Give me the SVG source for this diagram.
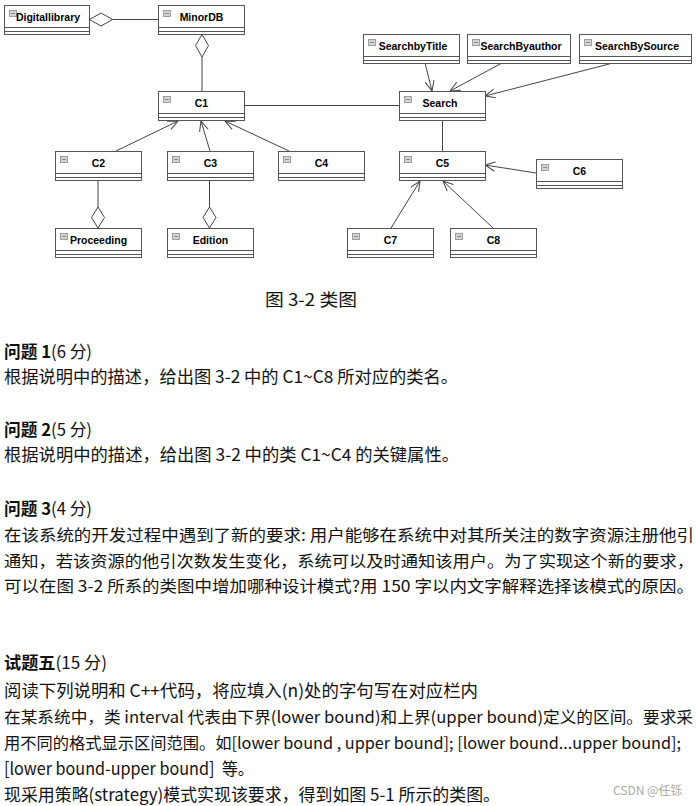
<svg xmlns="http://www.w3.org/2000/svg" width="696" height="806" viewBox="0 0 696 806">
<defs>
<marker id="open" markerUnits="userSpaceOnUse" markerWidth="14" markerHeight="14" viewBox="-12 -7 14 14" refX="0" refY="0" orient="auto">
<path d="M-10,-4.5 L0,0 L-10,4.5" fill="none" stroke="#444" stroke-width="1"/>
</marker>
</defs>
<style>
.bx{fill:#fff;stroke:#555;stroke-width:1}
.cl{stroke:#555;stroke-width:1}
.ic{fill:#d4d4d4;stroke:#8a8a8a;stroke-width:0.8}
.icd{stroke:#777;stroke-width:0.8}
.lbl{font-family:"Liberation Sans",Arial,sans-serif;font-weight:bold;font-size:10.5px;text-anchor:middle;fill:#000}
.con{stroke:#444;stroke-width:1;fill:none}
.arr{marker-end:url(#open)}
.dia{fill:#fff;stroke:#444;stroke-width:1}
.t{font-family:"Noto Sans CJK SC","Noto Sans",sans-serif;font-size:17px;fill:#111}
.s16{font-size:16px}
.bd{font-weight:bold}
.wm{font-family:"Noto Sans CJK SC","Noto Sans",sans-serif;font-size:12px;fill:#a8a8a8}
</style>
<rect x="0" y="0" width="696" height="806" fill="#fff"/>

<g id="connectors">
<line class="con" x1="113" y1="19.5" x2="158" y2="19.5"/>
<polygon class="dia" points="89.5,19.5 101,13 112.5,19.5 101,26"/>
<line class="con" x1="202" y1="57" x2="202" y2="91"/>
<polygon class="dia" points="202,34.5 208.5,45.5 202,57 195.5,45.5"/>
<line class="con" x1="98" y1="180" x2="98" y2="207"/>
<polygon class="dia" points="98,207 104.5,217.5 98,228 91.5,217.5"/>
<line class="con" x1="209.5" y1="180" x2="209.5" y2="207"/>
<polygon class="dia" points="209.5,207 216,217.5 209.5,228 203,217.5"/>
<line class="con arr" x1="116" y1="151" x2="178" y2="121"/>
<line class="con arr" x1="210" y1="151" x2="201" y2="121"/>
<line class="con arr" x1="289" y1="151" x2="225" y2="121"/>
<line class="con" x1="244" y1="105.5" x2="399" y2="105.5"/>
<line class="con arr" x1="425" y1="63" x2="432" y2="91"/>
<line class="con arr" x1="502" y1="63" x2="450" y2="91"/>
<line class="con arr" x1="613" y1="63" x2="485" y2="96"/>
<line class="con" x1="442.5" y1="120" x2="442.5" y2="151"/>
<line class="con arr" x1="536" y1="173" x2="485" y2="165"/>
<line class="con arr" x1="391" y1="228" x2="420" y2="181"/>
<line class="con arr" x1="493" y1="228" x2="443" y2="181"/>
</g>

<g id="digitallibrary"><rect class="bx" x="4.5" y="5.5" width="85" height="29"/><line class="cl" x1="4.5" y1="27.5" x2="89.5" y2="27.5"/><line class="cl" x1="4.5" y1="31.5" x2="89.5" y2="31.5"/><rect class="ic" x="9.5" y="10.5" width="7" height="6"/><line class="icd" x1="11" y1="13.5" x2="15" y2="13.5"/><text class="lbl" x="48" y="21">Digitallibrary</text></g>
<g id="minordb"><rect class="bx" x="158.5" y="5.5" width="86" height="29"/><line class="cl" x1="158.5" y1="27.5" x2="244.5" y2="27.5"/><line class="cl" x1="158.5" y1="31.5" x2="244.5" y2="31.5"/><rect class="ic" x="163.5" y="10.5" width="7" height="6"/><line class="icd" x1="165" y1="13.5" x2="169" y2="13.5"/><text class="lbl" x="201.5" y="21">MinorDB</text></g>
<g id="c1"><rect class="bx" x="158.5" y="91.5" width="86" height="29"/><line class="cl" x1="158.5" y1="113.5" x2="244.5" y2="113.5"/><line class="cl" x1="158.5" y1="117.5" x2="244.5" y2="117.5"/><rect class="ic" x="163.5" y="96.5" width="7" height="6"/><line class="icd" x1="165" y1="99.5" x2="169" y2="99.5"/><text class="lbl" x="201.5" y="107">C1</text></g>
<g id="c2"><rect class="bx" x="55.5" y="151.5" width="86" height="29"/><line class="cl" x1="55.5" y1="173.5" x2="141.5" y2="173.5"/><line class="cl" x1="55.5" y1="177.5" x2="141.5" y2="177.5"/><rect class="ic" x="60.5" y="156.5" width="7" height="6"/><line class="icd" x1="62" y1="159.5" x2="66" y2="159.5"/><text class="lbl" x="98.5" y="167">C2</text></g>
<g id="c3"><rect class="bx" x="167.5" y="151.5" width="86" height="29"/><line class="cl" x1="167.5" y1="173.5" x2="253.5" y2="173.5"/><line class="cl" x1="167.5" y1="177.5" x2="253.5" y2="177.5"/><rect class="ic" x="172.5" y="156.5" width="7" height="6"/><line class="icd" x1="174" y1="159.5" x2="178" y2="159.5"/><text class="lbl" x="210.5" y="167">C3</text></g>
<g id="c4"><rect class="bx" x="278.5" y="151.5" width="86" height="29"/><line class="cl" x1="278.5" y1="173.5" x2="364.5" y2="173.5"/><line class="cl" x1="278.5" y1="177.5" x2="364.5" y2="177.5"/><rect class="ic" x="283.5" y="156.5" width="7" height="6"/><line class="icd" x1="285" y1="159.5" x2="289" y2="159.5"/><text class="lbl" x="321.5" y="167">C4</text></g>
<g id="proceeding"><rect class="bx" x="55.5" y="228.5" width="86" height="29"/><line class="cl" x1="55.5" y1="250.5" x2="141.5" y2="250.5"/><line class="cl" x1="55.5" y1="254.5" x2="141.5" y2="254.5"/><rect class="ic" x="60.5" y="233.5" width="7" height="6"/><line class="icd" x1="62" y1="236.5" x2="66" y2="236.5"/><text class="lbl" x="98.5" y="244">Proceeding</text></g>
<g id="edition"><rect class="bx" x="167.5" y="228.5" width="86" height="29"/><line class="cl" x1="167.5" y1="250.5" x2="253.5" y2="250.5"/><line class="cl" x1="167.5" y1="254.5" x2="253.5" y2="254.5"/><rect class="ic" x="172.5" y="233.5" width="7" height="6"/><line class="icd" x1="174" y1="236.5" x2="178" y2="236.5"/><text class="lbl" x="210.5" y="244">Edition</text></g>
<g id="searchbytitle"><rect class="bx" x="363.5" y="34.5" width="96" height="29"/><line class="cl" x1="363.5" y1="56.5" x2="459.5" y2="56.5"/><line class="cl" x1="363.5" y1="60.5" x2="459.5" y2="60.5"/><rect class="ic" x="368.5" y="39.5" width="7" height="6"/><line class="icd" x1="370" y1="42.5" x2="374" y2="42.5"/><text class="lbl" x="413" y="50">SearchbyTitle</text></g>
<g id="searchbyauthor"><rect class="bx" x="467.5" y="34.5" width="103" height="29"/><line class="cl" x1="467.5" y1="56.5" x2="570.5" y2="56.5"/><line class="cl" x1="467.5" y1="60.5" x2="570.5" y2="60.5"/><rect class="ic" x="472.5" y="39.5" width="7" height="6"/><line class="icd" x1="474" y1="42.5" x2="478" y2="42.5"/><text class="lbl" x="521" y="50">SearchByauthor</text></g>
<g id="searchbysource"><rect class="bx" x="579.5" y="34.5" width="112" height="29"/><line class="cl" x1="579.5" y1="56.5" x2="691.5" y2="56.5"/><line class="cl" x1="579.5" y1="60.5" x2="691.5" y2="60.5"/><rect class="ic" x="584.5" y="39.5" width="7" height="6"/><line class="icd" x1="586" y1="42.5" x2="590" y2="42.5"/><text class="lbl" x="637" y="50">SearchBySource</text></g>
<g id="search"><rect class="bx" x="399.5" y="91.5" width="86" height="29"/><line class="cl" x1="399.5" y1="113.5" x2="485.5" y2="113.5"/><line class="cl" x1="399.5" y1="117.5" x2="485.5" y2="117.5"/><rect class="ic" x="404.5" y="96.5" width="7" height="6"/><line class="icd" x1="406" y1="99.5" x2="410" y2="99.5"/><text class="lbl" x="440" y="107">Search</text></g>
<g id="c5"><rect class="bx" x="399.5" y="151.5" width="86" height="29"/><line class="cl" x1="399.5" y1="173.5" x2="485.5" y2="173.5"/><line class="cl" x1="399.5" y1="177.5" x2="485.5" y2="177.5"/><rect class="ic" x="404.5" y="156.5" width="7" height="6"/><line class="icd" x1="406" y1="159.5" x2="410" y2="159.5"/><text class="lbl" x="442.5" y="167">C5</text></g>
<g id="c6"><rect class="bx" x="536.5" y="159.5" width="86" height="29"/><line class="cl" x1="536.5" y1="181.5" x2="622.5" y2="181.5"/><line class="cl" x1="536.5" y1="185.5" x2="622.5" y2="185.5"/><rect class="ic" x="541.5" y="164.5" width="7" height="6"/><line class="icd" x1="543" y1="167.5" x2="547" y2="167.5"/><text class="lbl" x="579.5" y="175">C6</text></g>
<g id="c7"><rect class="bx" x="347.5" y="228.5" width="86" height="29"/><line class="cl" x1="347.5" y1="250.5" x2="433.5" y2="250.5"/><line class="cl" x1="347.5" y1="254.5" x2="433.5" y2="254.5"/><rect class="ic" x="352.5" y="233.5" width="7" height="6"/><line class="icd" x1="354" y1="236.5" x2="358" y2="236.5"/><text class="lbl" x="390.5" y="244">C7</text></g>
<g id="c8"><rect class="bx" x="450.5" y="228.5" width="86" height="29"/><line class="cl" x1="450.5" y1="250.5" x2="536.5" y2="250.5"/><line class="cl" x1="450.5" y1="254.5" x2="536.5" y2="254.5"/><rect class="ic" x="455.5" y="233.5" width="7" height="6"/><line class="icd" x1="457" y1="236.5" x2="461" y2="236.5"/><text class="lbl" x="493.5" y="244">C8</text></g>

<g id="text">
<text class="t" x="265" y="306" textLength="92" lengthAdjust="spacingAndGlyphs">图 3-2 类图</text>
<text class="t" x="4" y="358" textLength="88" lengthAdjust="spacingAndGlyphs"><tspan class="bd">问题 1</tspan>(6 分)</text>
<text class="t" x="4" y="383" textLength="454" lengthAdjust="spacingAndGlyphs">根据说明中的描述，给出图 3-2 中的 C1~C8 所对应的类名。</text>
<text class="t" x="4" y="436" textLength="88" lengthAdjust="spacingAndGlyphs"><tspan class="bd">问题 2</tspan>(5 分)</text>
<text class="t" x="4" y="461" textLength="455" lengthAdjust="spacingAndGlyphs">根据说明中的描述，给出图 3-2 中的类 C1~C4 的关键属性。</text>
<text class="t" x="4" y="515" textLength="88" lengthAdjust="spacingAndGlyphs"><tspan class="bd">问题 3</tspan>(4 分)</text>
<text class="t s16" x="4" y="541" textLength="690" lengthAdjust="spacingAndGlyphs">在该系统的开发过程中遇到了新的要求: 用户能够在系统中对其所关注的数字资源注册他引</text>
<text class="t s16" x="4" y="567" textLength="690" lengthAdjust="spacingAndGlyphs">通知，若该资源的他引次数发生变化，系统可以及时通知该用户。为了实现这个新的要求，</text>
<text class="t s16" x="4" y="592" textLength="690" lengthAdjust="spacingAndGlyphs">可以在图 3-2 所系的类图中增加哪种设计模式?用 150 字以内文字解释选择该模式的原因。</text>
<text class="t" x="4" y="669" textLength="103" lengthAdjust="spacingAndGlyphs"><tspan class="bd">试题五</tspan>(15 分)</text>
<text class="t" x="4" y="697" textLength="474" lengthAdjust="spacingAndGlyphs">阅读下列说明和 C++代码，将应填入(n)处的字句写在对应栏内</text>
<text class="t s16" x="4" y="723" textLength="689" lengthAdjust="spacingAndGlyphs">在某系统中，类 interval 代表由下界(lower bound)和上界(upper bound)定义的区间。要求采</text>
<text class="t s16" x="4" y="749" textLength="677" lengthAdjust="spacingAndGlyphs">用不同的格式显示区间范围。如[lower bound , upper bound]; [lower bound...upper bound];</text>
<text class="t" x="4" y="775" textLength="250" lengthAdjust="spacingAndGlyphs" style="white-space:pre">[lower bound-upper bound]  等。</text>
<text class="t" x="4" y="801" textLength="496" lengthAdjust="spacingAndGlyphs">现采用策略(strategy)模式实现该要求，得到如图 5-1 所示的类图。</text>
<text class="wm" x="613" y="795">CSDN @任铄</text>
</g>
</svg>
